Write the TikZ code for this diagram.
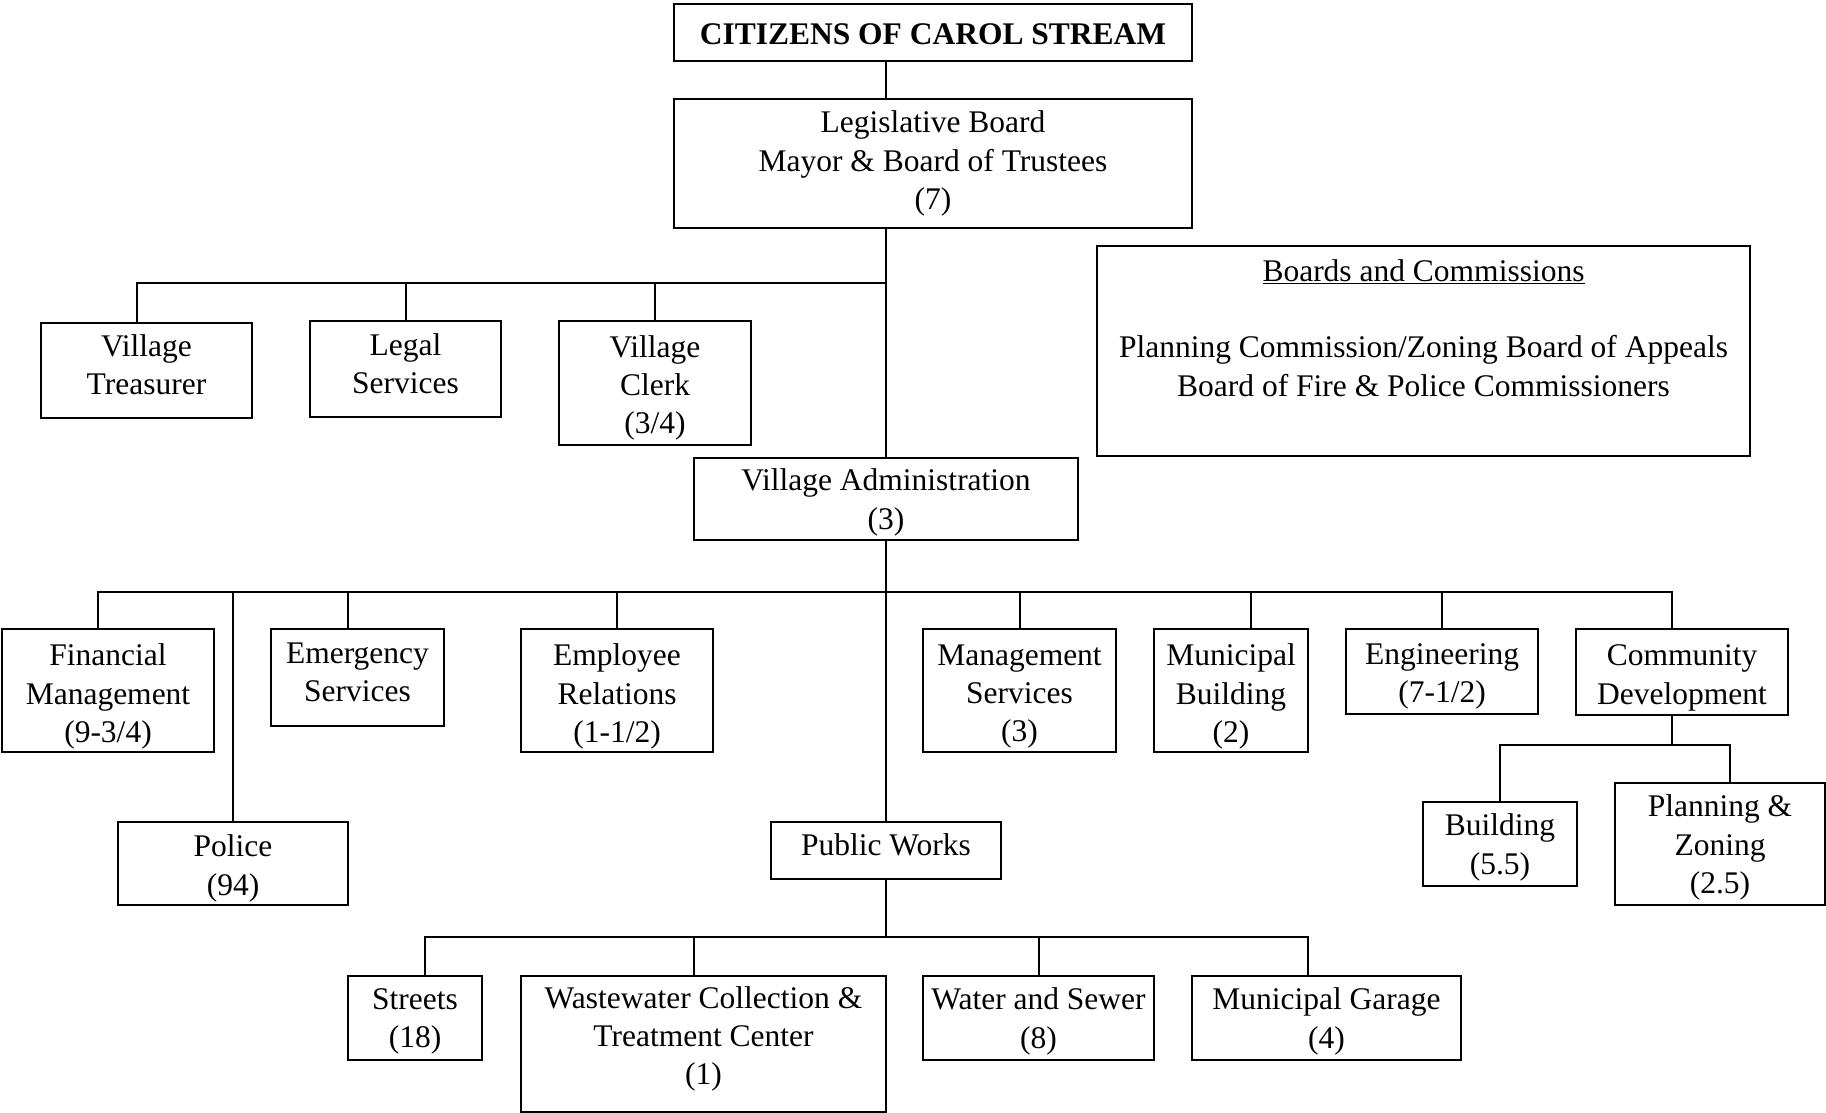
\documentclass[tikz,border=0pt]{standalone}
\usepackage{fontspec}
\setmainfont{Liberation Serif}
\tikzset{
  box/.style={draw, line width=2pt, inner sep=0pt, outer sep=0pt},
  txt/.style={inner sep=0pt, align=center, font=\fontsize{31.5}{38.3}\selectfont},
  link/.style={line width=2pt}
}
% \bx[text yshift]{name}{x1}{y1}{x2}{y2}{text}
\newcommand\bx[7][-5]{%
  \node[box,minimum width={#5-#3},minimum height={#6-#4}] (#2) at ({(#3+#5)/2},{(#4+#6)/2}) {};
  \node[txt,yshift=#1pt] (#2-t) at (#2.center) {#7};}
\begin{document}
\begin{tikzpicture}[x=1pt,y=-1pt]
\useasboundingbox (0,0) rectangle (1826,1113);
\bx[-2]{cit}{674}{4}{1192}{61}{\textbf{CITIZENS OF CAROL STREAM}}
\bx[0]{leg}{674}{99}{1192}{228}{Legislative Board\\Mayor \& Board of Trustees\\(7)}
\bx[6]{treas}{41}{323}{252}{418}{Village\\Treasurer}
\bx[5]{legal}{310}{321}{501}{417}{Legal\\Services}
\bx[-5]{clerk}{559}{321}{751}{445}{Village\\Clerk\\(3/4)}
\bx[0]{bnc}{1097}{246}{1750}{456}{\underline{Boards and Commissions}\\[38pt]Planning Commission/Zoning Board of Appeals\\Board of Fire \& Police Commissioners\\[8pt]\mbox{}}
\bx[-3.5]{admin}{694}{458}{1078}{540}{Village Administration\\(3)}
\bx[-6]{fin}{2}{629}{214}{752}{Financial\\Management\\(9-3/4)}
\bx[-5]{police}{118}{822}{348}{905}{Police\\(94)}
\bx[5]{emerg}{271}{629}{444}{726}{Emergency\\Services}
\bx[-6]{empl}{521}{629}{713}{752}{Employee\\Relations\\(1-1/2)}
\bx[6]{pw}{771}{822}{1001}{879}{Public Works}
\bx[-6]{mgmt}{923}{629}{1116}{752}{Management\\Services\\(3)}
\bx[-6]{muni}{1154}{629}{1308}{752}{Municipal\\Building\\(2)}
\bx[-5]{eng}{1346}{629}{1538}{714}{Engineering\\(7-1/2)}
\bx[-6]{cd}{1576}{629}{1788}{715}{Community\\Development}
\bx[-3.5]{bldg}{1423}{802}{1577}{886}{Building\\(5.5)}
\bx[-3.5]{pz}{1615}{783}{1825}{905}{Planning \&\\Zoning\\(2.5)}
\bx[-3.5]{streets}{348}{976}{482}{1060}{Streets\\(18)}
\bx[5]{ww}{521}{976}{886}{1112}{Wastewater Collection \&\\Treatment Center\\(1)}
\bx[-3.5]{ws}{923}{976}{1154}{1060}{Water and Sewer\\(8)}
\bx[-3.5]{garage}{1192}{976}{1461}{1060}{Municipal Garage\\(4)}
% connectors
\coordinate (b1) at (886,283);
\coordinate (b2) at (886,592);
\coordinate (b3) at (1672,745);
\coordinate (b4) at (886,937);
\draw[link] ([xshift=-47pt]cit.south) -- ([xshift=-47pt]leg.north);
\draw[link] ([xshift=-47pt]leg.south) -- (admin.north);
\draw[link] ([xshift=-9.5pt]treas.north) |- (b1);
\draw[link] (legal.north) -- (legal.north |- b1);
\draw[link] (clerk.north) -- (clerk.north |- b1);
\draw[link] (admin.south) -- (pw.north);
\draw[link] ([xshift=-10pt]fin.north) |- (b2) -| ([xshift=-10pt]cd.north);
\draw[link] (police.north) -- (police.north |- b2);
\draw[link] ([xshift=-9.5pt]emerg.north) -- ([xshift=-9.5pt]emerg.north |- b2);
\draw[link] (empl.north) -- (empl.north |- b2);
\draw[link] (mgmt.north) -- (mgmt.north |- b2);
\draw[link] ([xshift=20pt]muni.north) -- ([xshift=20pt]muni.north |- b2);
\draw[link] (eng.north) -- (eng.north |- b2);
\draw[link] ([xshift=-10pt]cd.south) -- (b3);
\draw[link] (bldg.north) |- ([xshift=10pt]pz.north |- b3) -- ([xshift=10pt]pz.north);
\draw[link] (pw.south) -- (b4);
\draw[link] ([xshift=10pt]streets.north) |- (b4) -| ([xshift=-18.5pt]garage.north);
\draw[link] ([xshift=-9.5pt]ww.north) -- ([xshift=-9.5pt]ww.north |- b4);
\draw[link] (ws.north) -- (ws.north |- b4);
\end{tikzpicture}
\end{document}
